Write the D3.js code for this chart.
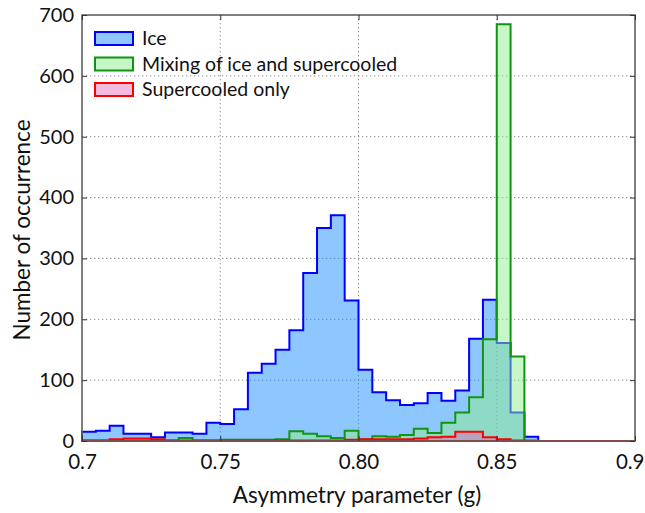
<!DOCTYPE html>
<html><head><meta charset="utf-8">
<script src="https://cdn.jsdelivr.net/npm/d3@7/dist/d3.min.js"></script>
<style>
html,body{margin:0;padding:0;background:#fff;}
svg text{font-family:Lato,"Open Sans",sans-serif;fill:#111;}
</style></head>
<body>
<svg id="chart" width="645" height="513"></svg>
<script>
// ---- data ----
const binStart = 0.7, binWidth = 0.005, nBins = 40;
const iceValues = [15,17,25,12,12,6,14,14,12,30,28,52,112,127,150,182,276,350,371,231,117,80,67,59,62,79,66,83,168,232,161,47,7,0,0,0,0,0,0,0];
const mixValues = [1,1,1,1,1,1,1,5,1,1,2,2,2,2,3,16,12,8,5,17,3,8,7,10,20,13,30,47,72,167,685,139,1,0,0,0,0,0,0,0];
const supValues = [1,1,3,4,4,3,1,1,1,1,1,1,1,1,1,1,1,1,1,2,3,3,3,3,4,6,7,15,15,6,3,1,0,0,0,0,0,0,0,0];
const seriesNames = ["Ice","Mixing of ice and supercooled","Supercooled only"];
const xTicks = [0.7,0.75,0.8,0.85,0.9];
const xTickLabels = ["0.7","0.75","0.80","0.85","0.9"];
const yTicks = [0,100,200,300,400,500,600,700];

// ---- styles ----
const styles = [
  {fill:"rgba(30,144,255,0.5)", stroke:"#0000ff"},
  {fill:"rgba(144,238,144,0.5)", stroke:"#119411"},
  {fill:"rgba(230,90,180,0.42)", stroke:"#ff0000"}
];

const svg = d3.select("#chart");
const L = 82, R = 635, T = 15, B = 441;
const x = d3.scaleLinear().domain([0.7,0.9]).range([L,R]);
const y = d3.scaleLinear().domain([0,700]).range([B,T]);

// grid
const grid = svg.append("g").attr("stroke","#8a8a8a").attr("stroke-width",1).attr("stroke-dasharray","1.3,2.7");
xTicks.slice(1,-1).forEach(v=>grid.append("line").attr("x1",x(v)).attr("x2",x(v)).attr("y1",T).attr("y2",B));
yTicks.slice(1,-1).forEach(v=>grid.append("line").attr("x1",L).attr("x2",R).attr("y1",y(v)).attr("y2",y(v)));

// histograms
function stepData(vals){
  const d = vals.map((v,i)=>({e: binStart+i*binWidth, v}));
  d.push({e: binStart+nBins*binWidth, v: vals[vals.length-1]});
  return d;
}
const area = d3.area().curve(d3.curveStepAfter).x(d=>x(d.e)).y0(y(0)).y1(d=>y(d.v));
[iceValues,mixValues,supValues].forEach((vals,k)=>{
  svg.append("path").datum(stepData(vals)).attr("d",area)
    .attr("fill",styles[k].fill).attr("stroke",styles[k].stroke)
    .attr("stroke-width",2).attr("stroke-linejoin","miter");
});

// frame
svg.append("rect").attr("x",L).attr("y",T).attr("width",R-L).attr("height",B-T)
  .attr("fill","none").attr("stroke","#606060").attr("stroke-width",1.6);

// axes (ticks inward)
const xAxisB = d3.axisBottom(x).tickValues(xTicks).tickFormat((d,i)=>xTickLabels[i]).tickSizeInner(-5).tickSizeOuter(0).tickPadding(13);
const gx = svg.append("g").attr("transform",`translate(0,${B})`).call(xAxisB);
gx.select(".domain").remove();
gx.selectAll("line").attr("stroke","#333");
gx.selectAll("text").attr("font-size","20.5px").attr("fill","#111");
// keep the last label inside the window, as in the reference
gx.selectAll("text").filter((d,i)=>i===xTicks.length-1).attr("text-anchor","end").attr("dx","9");
const xAxisT = d3.axisTop(x).tickValues(xTicks).tickFormat("").tickSizeInner(-5).tickSizeOuter(0);
const gxt = svg.append("g").attr("transform",`translate(0,${T})`).call(xAxisT);
gxt.select(".domain").remove(); gxt.selectAll("line").attr("stroke","#333");

const yAxisL = d3.axisLeft(y).tickValues(yTicks).tickSizeInner(-5).tickSizeOuter(0).tickPadding(8);
const gy = svg.append("g").attr("transform",`translate(${L},0)`).call(yAxisL);
gy.select(".domain").remove();
gy.selectAll("line").attr("stroke","#333");
gy.selectAll("text").attr("font-size","20px").attr("fill","#111");
const yAxisR = d3.axisRight(y).tickValues(yTicks).tickFormat("").tickSizeInner(-5).tickSizeOuter(0);
const gyr = svg.append("g").attr("transform",`translate(${R},0)`).call(yAxisR);
gyr.select(".domain").remove(); gyr.selectAll("line").attr("stroke","#333");

// axis titles
svg.append("text").attr("x",357).attr("y",503).attr("text-anchor","middle")
  .attr("font-size","22.5px").text("Asymmetry parameter (g)");
svg.append("text").attr("transform",`translate(30,${(T+B)/2+2}) rotate(-90)`).attr("text-anchor","middle")
  .attr("font-size","22.5px").text("Number of occurrence");

// legend
const lg = svg.append("g");
seriesNames.forEach((name,k)=>{
  const ty = 32 + k*25.5;
  lg.append("rect").attr("x",95).attr("y",ty).attr("width",38).attr("height",13)
    .attr("fill",styles[k].fill).attr("stroke",styles[k].stroke).attr("stroke-width",2);
  lg.append("text").attr("x",142).attr("y",ty+13).attr("font-size","19.5px").text(name);
});
</script>
</body></html>
